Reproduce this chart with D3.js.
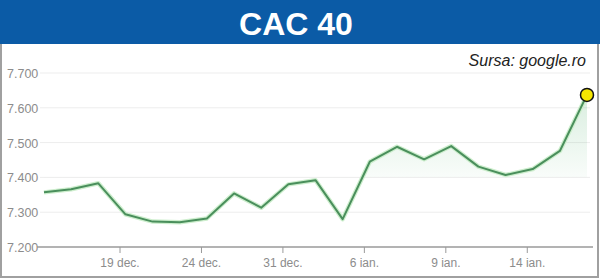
<!DOCTYPE html>
<html>
<head>
<meta charset="utf-8">
<script src="https://cdn.jsdelivr.net/npm/d3@7"></script>
<style>
  body { margin: 0; background: #fff; }
  svg { display: block; font-family: "Liberation Sans", Arial, sans-serif; }
</style>
</head>
<body>
<svg id="chart" width="600" height="279"></svg>
<script>
// trading days, 16 Dec 2024 .. 16 Jan 2025
const dates = ['16 dec.', '17 dec.', '18 dec.', '19 dec.', '20 dec.', '23 dec.', '24 dec.', '27 dec.',
    '30 dec.', '31 dec.', '2 ian.', '3 ian.', '6 ian.', '7 ian.', '8 ian.', '9 ian.', '10 ian.',
    '13 ian.', '14 ian.', '15 ian.', '16 ian.'];
const closes = [7357, 7366, 7383, 7294, 7273, 7271, 7282, 7354, 7313, 7380, 7392, 7280, 7445,
    7488, 7452, 7490, 7431, 7407, 7424, 7476, 7637];
const tickLabels = ['19 dec.', '24 dec.', '31 dec.', '6 ian.', '9 ian.', '14 ian.'];
const yTicks = [7200, 7300, 7400, 7500, 7600, 7700];
const refLevel = 7400;

const svg = d3.select('#chart');
const W = 600, H = 279;

// frame
svg.append('rect')
    .attr('x', 1).attr('y', 1).attr('width', W - 3).attr('height', H - 3)
    .attr('fill', '#fff').attr('stroke', '#a0a0a0').attr('stroke-width', 2);

// header
svg.append('rect')
    .attr('x', 0).attr('y', 0).attr('width', W).attr('height', 44)
    .attr('fill', '#0b5ba6');
svg.append('text')
    .attr('x', 296).attr('y', 35)
    .attr('text-anchor', 'middle')
    .attr('fill', '#fff')
    .style('font-size', '32px').style('font-weight', 'bold')
    .text('CAC 40');

svg.append('text')
    .attr('x', 586).attr('y', 66)
    .attr('text-anchor', 'end')
    .attr('fill', '#222')
    .style('font-size', '16px').style('font-style', 'italic')
    .text('Sursa: google.ro');

const x = d3.scaleLinear().domain([0, closes.length - 1]).range([44, 587]);
const y = d3.scaleLinear().domain([7200, 7700]).range([247, 73]);

// grid
svg.append('g').selectAll('line')
    .data(yTicks.slice(1))
    .enter().append('line')
    .attr('x1', 40).attr('x2', 590)
    .attr('y1', d => y(d)).attr('y2', d => y(d))
    .attr('stroke', '#ededed');

// y labels
svg.append('g').selectAll('text')
    .data(yTicks)
    .enter().append('text')
    .attr('x', 7).attr('y', d => y(d) + 5)
    .attr('fill', '#8c8c8c')
    .style('font-size', '12.5px')
    .text(d => d3.format(',')(d).replace(',', '.'));

// gradient area above reference level
const defs = svg.append('defs');
const grad = defs.append('linearGradient')
    .attr('id', 'fillGrad')
    .attr('gradientUnits', 'userSpaceOnUse')
    .attr('x1', 0).attr('x2', 0).attr('y1', y(7650)).attr('y2', y(refLevel));
grad.append('stop').attr('offset', '0%').attr('stop-color', '#3aa55a').attr('stop-opacity', 0.2);
grad.append('stop').attr('offset', '100%').attr('stop-color', '#3aa55a').attr('stop-opacity', 0.03);
defs.append('clipPath').attr('id', 'aboveRef')
    .append('rect')
    .attr('x', 0).attr('y', 0).attr('width', W).attr('height', y(refLevel));

const area = d3.area()
    .x((d, i) => x(i))
    .y0(y(refLevel))
    .y1(d => y(d));
svg.append('path')
    .datum(closes)
    .attr('d', area)
    .attr('fill', 'url(#fillGrad)')
    .attr('clip-path', 'url(#aboveRef)');

// x axis
const axisY = y(7200);
svg.append('line')
    .attr('x1', 37).attr('x2', 593)
    .attr('y1', axisY).attr('y2', axisY)
    .attr('stroke', '#9a9a9a').attr('stroke-width', 1.5);
const tickIdx = tickLabels.map(t => dates.indexOf(t));
const tickShift = -0.2;
const xt = svg.append('g');
xt.selectAll('line')
    .data(tickIdx)
    .enter().append('line')
    .attr('x1', d => x(d + tickShift)).attr('x2', d => x(d + tickShift))
    .attr('y1', axisY).attr('y2', axisY + 6)
    .attr('stroke', '#9a9a9a');
xt.selectAll('text')
    .data(tickIdx)
    .enter().append('text')
    .attr('x', d => x(d + tickShift)).attr('y', axisY + 20)
    .attr('text-anchor', 'middle')
    .attr('fill', '#8c8c8c')
    .style('font-size', '12px')
    .text(d => dates[d]);

// line
const line = d3.line()
    .x((d, i) => x(i))
    .y(d => y(d));
svg.append('path')
    .datum(closes)
    .attr('d', line)
    .attr('fill', 'none')
    .attr('stroke', '#cdeecd')
    .attr('stroke-width', 4.5)
    .attr('stroke-linejoin', 'round');
svg.append('path')
    .datum(closes)
    .attr('d', line)
    .attr('fill', 'none')
    .attr('stroke', '#4a8f5c')
    .attr('stroke-width', 2)
    .attr('stroke-linejoin', 'round');

// last point marker
const last = closes.length - 1;
svg.append('circle')
    .attr('cx', x(last)).attr('cy', y(closes[last]))
    .attr('r', 6.5)
    .attr('fill', '#f6e600')
    .attr('stroke', '#111')
    .attr('stroke-width', 1.5);
</script>
</body>
</html>
